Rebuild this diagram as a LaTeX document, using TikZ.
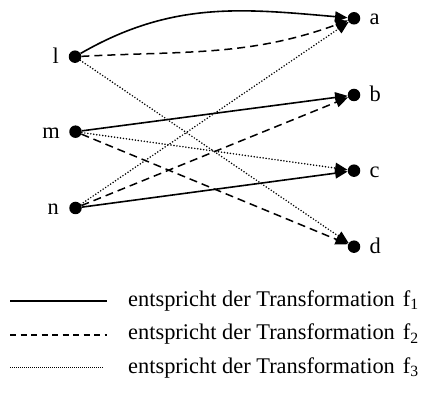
\documentclass[tikz,border=0pt]{standalone}
\usepackage{fontspec}
\setmainfont{Liberation Serif}
\usetikzlibrary{arrows.meta}

\begin{document}
\begin{tikzpicture}[x=1pt,y=1pt,
  vertex/.style={circle,fill=black,inner sep=0pt,minimum size=12.5pt},
  lbl/.style={font=\fontsize{22.4}{27}\selectfont,inner sep=0pt},
  tip/.style={-{Triangle[length=12.5pt,width=10.5pt]}},
  fone/.style={line width=1.6pt},
  ftwo/.style={line width=1.5pt,dash pattern=on 8pt off 5pt},
  fthree/.style={line width=1.7pt,line cap=round,dash pattern=on 0pt off 3pt},
]
\useasboundingbox (0,0) rectangle (428,401);

% source points
\node[vertex] (l) at (75,344.3) {};
\node[vertex] (m) at (75.5,269.3) {};
\node[vertex] (n) at (75.5,193) {};
% target points
\node[vertex] (a) at (354,382.7) {};
\node[vertex] (b) at (354,306) {};
\node[vertex] (c) at (354,230.3) {};
\node[vertex] (d) at (354,154.3) {};

% point labels
\node[lbl,anchor=base east] (tl) at (59,337.8) {l};
\node[lbl,anchor=base east] (tm) at (60,262.8) {m};
\node[lbl,anchor=base east] (tn) at (59,186.5) {n};
\node[lbl,anchor=base west] (ta) at (369.5,376.2) {a};
\node[lbl,anchor=base west] (tb) at (369.5,299.5) {b};
\node[lbl,anchor=base west] (tc) at (369.5,223.8) {c};
\node[lbl,anchor=base west] (td) at (369.5,147.8) {d};

% transformation f1
\draw[fone,tip] (l) to[out=30,in=175] (a);
\draw[fone,tip] (m) -- (b);
\draw[fone,tip] (n) -- (c);
% transformation f2
\draw[ftwo,tip] (l) to[out=3,in=200] (a);
\draw[ftwo,tip] (m) -- (d);
\draw[ftwo,tip] (n) -- (b);
% transformation f3 (arrow tips drawn solid)
\draw[fthree,-{Triangle[length=12.5pt,width=10.5pt,line cap=butt]}] (l) -- (d);
\draw[fthree,-{Triangle[length=12.5pt,width=10.5pt,line cap=butt]}] (m) -- (c);
\draw[fthree,-{Triangle[length=12.5pt,width=10.5pt,line cap=butt]}] (n) -- (a);

% legend
\coordinate (s1) at (10,100);  \coordinate (e1) at (107,100);
\coordinate (s2) at (10,66);   \coordinate (e2) at (107,66);
\coordinate (s3) at (10,33);   \coordinate (e3) at (104,33);
\draw[line width=1.6pt] (s1) -- (e1);
\draw[line width=1.3pt,dash pattern=on 6pt off 4.5pt] (s2) -- (e2);
\draw[line width=1pt,dash pattern=on 1pt off 1pt] (s3) -- (e3);
\node[lbl,anchor=base west] (g1) at (128,94.7) {entspricht der Transformation\hspace{8pt}f\textsubscript{1}};
\node[lbl,anchor=base west] (g2) at (128,61.2) {entspricht der Transformation\hspace{8pt}f\textsubscript{2}};
\node[lbl,anchor=base west] (g3) at (128,27.7) {entspricht der Transformation\hspace{8pt}f\textsubscript{3}};
\end{tikzpicture}
\end{document}
